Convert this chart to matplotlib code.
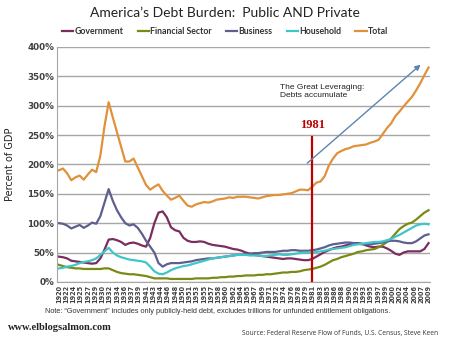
import numpy as np
import matplotlib
matplotlib.use("Agg")
import matplotlib.pyplot as plt

# Debt as percent of GDP (annual, 1920-2009)
years = np.arange(1920, 2010)

government = [43, 42, 40, 36, 35, 34, 33, 32, 31, 32,
              40, 55, 72, 73, 71, 68, 63, 66, 67, 65,
              62, 60, 75, 100, 118, 120, 110, 93, 88, 86,
              75, 70, 68, 68, 69, 68, 65, 63, 62, 61,
              60, 58, 56, 55, 53, 50, 48, 46, 45, 44,
              43, 42, 41, 40, 39, 40, 40, 39, 38, 37,
              37, 39, 43, 47, 51, 54, 57, 59, 60, 62,
              64, 66, 66, 65, 62, 60, 59, 60, 60, 57,
              53, 48, 46, 50, 52, 52, 52, 52, 56, 66]

financial = [29, 27, 25, 24, 23, 23, 22, 22, 22, 22,
             22, 23, 23, 20, 17, 15, 14, 13, 13, 12,
             11, 10, 8, 6, 6, 6, 6, 5, 5, 5,
             5, 5, 5, 6, 6, 6, 6, 7, 7, 8,
             8, 9, 9, 10, 10, 11, 11, 11, 12, 12,
             13, 13, 14, 15, 16, 16, 17, 17, 18, 20,
             21, 22, 24, 26, 29, 33, 37, 39, 42, 44,
             46, 48, 51, 52, 54, 55, 56, 59, 63, 68,
             74, 82, 90, 95, 99, 101, 106, 112, 118, 122]

business = [100, 99, 96, 91, 94, 97, 92, 96, 101, 99,
            112, 135, 158, 138, 122, 110, 100, 96, 98, 92,
            82, 70, 60, 50, 32, 26, 30, 32, 32, 32,
            33, 34, 35, 37, 38, 39, 40, 40, 41, 42,
            43, 44, 45, 46, 46, 47, 48, 49, 49, 50,
            51, 51, 51, 52, 53, 53, 54, 54, 53, 53,
            53, 54, 55, 57, 59, 62, 64, 65, 66, 67,
            67, 66, 65, 64, 64, 64, 65, 66, 67, 69,
            70, 70, 69, 67, 66, 66, 69, 74, 79, 81]

household = [23, 24, 26, 27, 29, 32, 34, 35, 37, 40,
             46, 52, 58, 50, 45, 42, 40, 38, 37, 36,
             35, 33, 26, 18, 14, 13, 16, 20, 23, 25,
             27, 28, 30, 32, 34, 36, 38, 40, 41, 42,
             43, 44, 45, 46, 46, 46, 45, 45, 45, 44,
             44, 45, 46, 47, 46, 46, 47, 48, 49, 50,
             50, 50, 51, 52, 53, 55, 56, 57, 58, 59,
             61, 63, 64, 65, 66, 67, 68, 68, 69, 71,
             73, 77, 80, 84, 88, 92, 96, 98, 99, 98]

total = [190, 193, 185, 173, 178, 181, 174, 183, 191, 187,
         215, 265, 306, 280, 255, 230, 205, 205, 210, 195,
         180, 165, 157, 162, 166, 155, 147, 140, 143, 147,
         138, 130, 128, 132, 134, 136, 135, 137, 140, 141,
         142, 144, 143, 145, 145, 145, 144, 143, 142, 144,
         146, 147, 148, 148, 149, 150, 151, 154, 157, 157,
         156, 162, 169, 171, 180, 198, 210, 219, 223, 226,
         228, 231, 232, 233, 234, 237, 239, 242, 252, 262,
         270, 282, 290, 299, 307, 315, 326, 338, 352, 365]

tick_labels = ["1920", "1922", "1924", "1925", "1927", "1929", "1930", "1932",
               "1934", "1936", "1937", "1939", "1941", "1943", "1944", "1946",
               "1948", "1950", "1951", "1953", "1955", "1957", "1958", "1960",
               "1962", "1964", "1965", "1967", "1969", "1971", "1972", "1974",
               "1976", "1978", "1979", "1981", "1983", "1985", "1986", "1988",
               "1990", "1992", "1993", "1995", "1997", "1999", "2000", "2002",
               "2004", "2006", "2007", "2009"]

series = [("Government", government, "#7b2d5e"),
          ("Financial Sector", financial, "#7a8a14"),
          ("Business", business, "#5f5f8f"),
          ("Household", household, "#3fc6c9"),
          ("Total", total, "#e0913a")]

fig = plt.figure(figsize=(4.5, 3.38), dpi=100)
ax = fig.add_axes([0.127, 0.166, 0.829, 0.695])

for name, vals, col in series:
    ax.plot(years, vals, color=col, lw=1.6, label=name, solid_joinstyle="round")

ax.set_xlim(1919.6, 2009.4)
ax.set_ylim(0, 400)
ax.set_yticks(np.arange(0, 401, 50))
ax.set_yticklabels([f"{v}%" for v in range(0, 401, 50)],
                   fontsize=6.3, fontweight="bold", color="#404040")
ax.set_xticks(np.linspace(1920, 2009, len(tick_labels)))
ax.set_xticklabels(tick_labels, rotation=90, fontsize=4.7, fontweight="bold",
                   color="#404040")
ax.tick_params(length=0, pad=2)
ax.grid(axis="y", color="#a6a6a6", lw=1)
ax.set_axisbelow(True)
for s in ["top", "right"]:
    ax.spines[s].set_visible(False)
ax.spines["left"].set_color("#a6a6a6")
ax.spines["bottom"].set_color("#a6a6a6")
ax.set_ylabel("Percent of GDP", fontsize=7, color="#222222", labelpad=9)

# 1981 marker and arrow
ax.plot([1981, 1981], [0, 247], color="#c00000", lw=1.6)
ax.text(1981, 267, "1981", color="#c00000", fontsize=9, fontweight="bold",
        family="Liberation Serif", ha="center", va="center")
ax.text(1973.2, 337, "The Great Leveraging:\nDebts accumulate", fontsize=6,
        family="Liberation Sans", color="#222222", va="top", linespacing=1.3)
ax.annotate("", xy=(2007.6, 373), xytext=(1979.3, 199),
            arrowprops=dict(arrowstyle="-|>", color="#5b86b0", lw=1,
                            mutation_scale=8))

fig.text(0.5, 0.963, "America\u2019s Debt Burden:  Public AND Private",
         ha="center", va="center", fontsize=10, family="Lato", color="#222222")
fig.legend(loc="center", bbox_to_anchor=(0.5, 0.908), ncol=5, frameon=False,
           prop={"size": 6.3, "weight": "bold", "family": "Lato"},
           handlelength=1.3, handletextpad=0.15, columnspacing=1.6,
           labelcolor="#333333")

fig.text(0.1, 0.077, "Note: \u201cGovernment\u201d includes only publicly-held debt, "
         "excludes trillions for unfunded entitlement obligations.",
         fontsize=5.3, family="Liberation Sans", color="#333333", va="center")
fig.text(0.018, 0.032, "www.elblogsalmon.com", fontsize=7.5, fontweight="bold",
         family="Liberation Serif", color="#222222", va="center")
fig.text(0.538, 0.014, "Source: Federal Reserve Flow of Funds, U.S. Census, Steve Keen",
         fontsize=4.8, family="Open Sans", color="#333333", va="center")

fig.savefig("out.png", dpi=100, facecolor="white")
